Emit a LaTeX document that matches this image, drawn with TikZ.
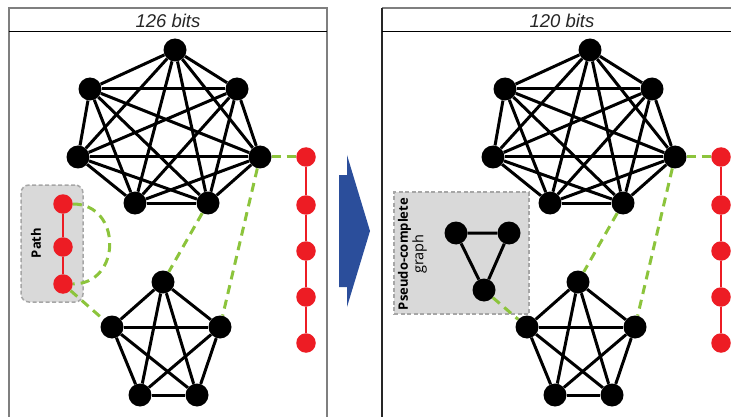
\documentclass[tikz,border=0pt]{standalone}
\usepackage{fontspec}
\setmainfont{Liberation Sans}
\newfontfamily\labelfont{Open Sans}
\definecolor{redc}{HTML}{ED1C24}
\definecolor{greenc}{HTML}{8CC43C}
\definecolor{arrowblue}{HTML}{2B4E9B}
\definecolor{boxfill}{HTML}{D9D9D9}
\definecolor{boxborder}{HTML}{A6A6A6}
\definecolor{framegray}{HTML}{7F7F7F}
\definecolor{textgray}{HTML}{262626}
\begin{document}
\begin{tikzpicture}[x=1pt,y=-1pt,
  edge/.style={line width=3pt, black},
  vtx/.style={circle, fill=black, minimum size=23pt, inner sep=0pt},
  rvtx/.style={circle, fill=redc, minimum size=19.5pt, inner sep=0pt},
  link/.style={greenc, line width=3pt, dash pattern=on 9pt off 6pt},
  chain/.style={redc, line width=2.5pt},
  groupbox/.style={draw=boxborder, fill=boxfill, line width=1.5pt, dash pattern=on 4pt off 2.5pt, inner sep=0pt},
  grouplabel/.style={rotate=90, text=black, font=\labelfont\fontsize{13}{15.5}\selectfont, align=center},
  headtext/.style={text=textgray, font=\itshape\fontsize{18.5}{21}\selectfont},
]
\path[use as bounding box] (0,0) rectangle (731,417);
\clip (0,0) rectangle (731,417);

% panel frames and headers
\draw[framegray, line width=2pt] (9,425) -- (9,8) -- (327,8) -- (327,425);
\draw[black, line width=1pt] (9,32) -- (327,32);
\draw[framegray, line width=2pt] (382,8) -- (750,8);
\draw[textgray, line width=1.3pt] (382,8) -- (382,425);
\draw[black, line width=1pt] (382,32) -- (750,32);
\node[headtext] (hleft) at (168,20.5) {126 bits};
\node[headtext] (hright) at (562,20.5) {120 bits};

% transition arrow
\fill[arrowblue] (339,175) -- (347,175) -- (347,155) -- (370,231) -- (347,307) -- (347,287) -- (339,287) -- cycle;

% group boxes
\node[groupbox, rounded corners=8pt, minimum width=62pt, minimum height=117pt] (pathbox) at (52,243.5) {};
\node[grouplabel] (pathlbl) at (36,243) {\bfseries Path};
\node[groupbox, minimum width=135pt, minimum height=122pt] (pcbox) at (461.5,253) {};
\node[grouplabel] (pclbl) at (412.5,254) {\bfseries Pseudo-complete\\{\fontsize{14.5}{15.5}\selectfont graph}};

% both panels share the same graphs, shifted horizontally
\foreach \side/\dx in {L/0, R/415} {
  % seven-vertex clique
  \foreach \n/\x/\y in {1/175/50, 2/237/89, 3/260/157, 4/208/203, 5/135/203, 6/78/157, 7/90/89}
    \node[vtx] (\side a\n) at (\x+\dx,\y) {};
  % five-vertex clique
  \foreach \n/\x/\y in {1/163/282, 2/220/327, 3/197/395, 4/140/395, 5/112/327}
    \node[vtx] (\side p\n) at (\x+\dx,\y) {};
  % red chain on the right
  \foreach \n/\y in {1/157, 2/205, 3/251, 4/297, 5/343}
    \node[rvtx] (\side r\n) at (306+\dx,\y) {};
  \foreach \i in {1,...,6} {
    \pgfmathtruncatemacro\s{\i+1}
    \foreach \j in {\s,...,7} \draw[edge] (\side a\i) -- (\side a\j);
  }
  \foreach \i in {1,...,4} {
    \pgfmathtruncatemacro\s{\i+1}
    \foreach \j in {\s,...,5} \draw[edge] (\side p\i) -- (\side p\j);
  }
  \draw[chain] (\side r1) -- (\side r2) -- (\side r3) -- (\side r4) -- (\side r5);
  \draw[link] (\side a3) -- (\side r1);
  \draw[link] (\side a3) -- (\side p2);
  \draw[link] (\side a4) -- (\side p1);
}

% left: three-vertex path
\node[rvtx] (q1) at (63,204) {};
\node[rvtx] (q2) at (63,247) {};
\node[rvtx] (q3) at (63,284) {};
\draw[chain] (q1) -- (q2) -- (q3);
\draw[link] (q1) .. controls (122,204) and (122,284) .. (q3);
\draw[link] (q3) -- (Lp5);

% right: pseudo-complete triangle
\node[vtx] (t1) at (456,233) {};
\node[vtx] (t2) at (509,233) {};
\node[vtx] (t3) at (484,290) {};
\draw[edge] (t1) -- (t2) -- (t3) -- (t1);
\draw[link] (t3) -- (Rp5);
\end{tikzpicture}
\end{document}
